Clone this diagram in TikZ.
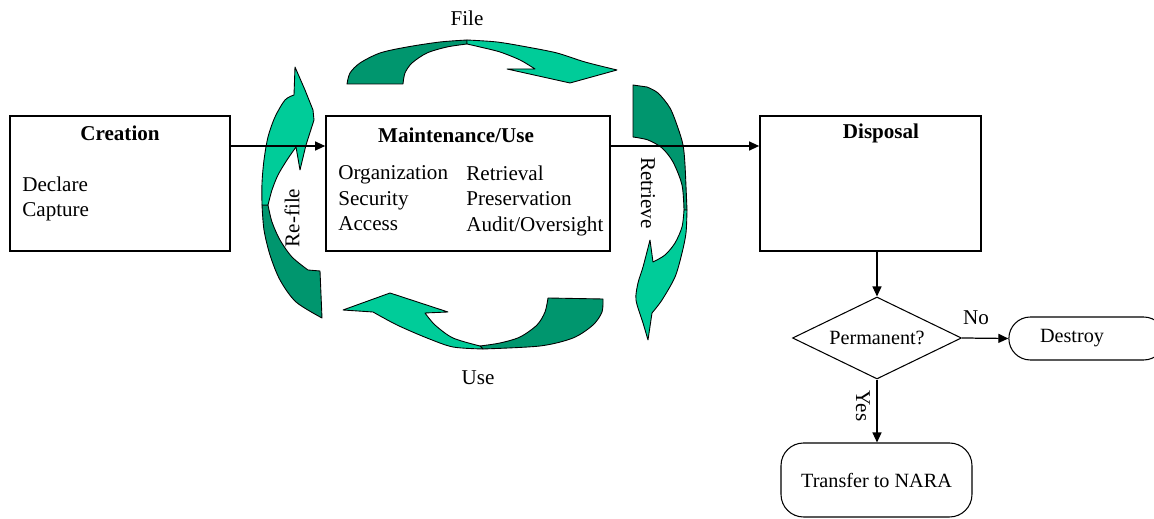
\documentclass[tikz,border=0pt]{standalone}
\usepackage{fontspec}
\setmainfont{Liberation Serif}
\usetikzlibrary{arrows.meta, positioning, shapes.geometric, shapes.misc}
\definecolor{tealdark}{RGB}{0,150,110}
\definecolor{teallight}{RGB}{0,204,153}

\begin{document}
\begin{tikzpicture}[x=0.02cm, y=-0.02cm, >={Triangle[length=2mm, width=1.8mm]},
  box/.style={draw, line width=1pt, fill=white, minimum width=#1, minimum height=2.7cm, inner sep=0pt},
  txt/.style={font=\fontsize{12}{14.5}\selectfont, inner sep=0pt, align=left},
  ttl/.style={inner sep=0pt, font=\fontsize{12}{14.5}\selectfont\bfseries},
  chart/.style={draw, line width=0.6pt, font=\fontsize{11.5}{13}\selectfont},
  decide/.style={chart, diamond, aspect=2, inner sep=0pt, minimum width=3.38cm, minimum height=1.64cm},
  term/.style={chart, rounded rectangle, minimum width=3.36cm, minimum height=0.86cm},
  endbox/.style={chart, rounded corners=0.45cm, minimum width=3.82cm, minimum height=1.48cm},
  flow/.style={->, line width=0.7pt},
  swirl/.style={draw=black, line width=0.5pt, line join=round}]
\useasboundingbox (0,0) rectangle (1154,519);
\clip (0,0) rectangle (1154,519);

% File (top)
\filldraw[swirl, fill=tealdark] plot[smooth] coordinates {(347,84) (350,73) (360,63) (380,53) (407,47) (440,42) (467,40)}
  -- plot[smooth] coordinates {(467,44) (447,47) (427,53) (412,63) (405,73) (403,84)} -- cycle;
\filldraw[swirl, fill=teallight] plot[smooth] coordinates {(467,40) (497,42) (527,47) (557,53) (585,62) (617,70)}
  -- (570,83) -- (507,69) -- (535,69)
  -- plot[smooth] coordinates {(535,69) (520,60) (500,52) (480,47) (467,44)} -- cycle;
% Retrieve (right)
\filldraw[swirl, fill=tealdark] (633,85) -- (647,87)
  -- plot[smooth] coordinates {(647,87) (658,93) (670,108) (678,128) (683,145) (685,165) (687,210)}
  -- plot[smooth] coordinates {(684,210) (682,185) (673,162) (662,148) (648,140) (633,137)} -- cycle;
\filldraw[swirl, fill=teallight] plot[smooth] coordinates {(687,210) (686,233) (682,253) (675,277) (662,300) (652,313)}
  -- (648,340) -- plot[smooth] coordinates {(648,340) (643,323) (636,300) (638,283) (643,267) (650,240)}
  -- (653,262) -- plot[smooth] coordinates {(653,262) (665,255) (675,243) (682,227) (684,210)} -- cycle;
% Use (bottom)
\filldraw[swirl, fill=tealdark] (548,298) -- (603,299)
  -- plot[smooth] coordinates {(603,299) (602,312) (593,325) (573,338) (540,346) (483,349)}
  -- plot[smooth] coordinates {(480,346) (500,343) (520,337) (537,325) (545,312) (548,298)} -- cycle;
\filldraw[swirl, fill=teallight] plot[smooth] coordinates {(483,349) (453,347) (427,338) (397,325) (373,312)}
  -- (343,310) -- (390,293) -- (448,312) -- (425,313)
  -- plot[smooth] coordinates {(425,313) (435,325) (453,338) (480,346)} -- cycle;
% Re-file (left)
\filldraw[swirl, fill=tealdark] plot[smooth] coordinates {(262,205) (264,230) (270,255) (280,280) (296,302) (322,318)}
  -- (320,271) -- plot[smooth] coordinates {(308,270) (292,257) (280,240) (272,222) (268,205)} -- cycle;
\filldraw[swirl, fill=teallight] plot[smooth] coordinates {(262,205) (262,183) (264,160) (268,137) (275,117) (285,100) (294,95)}
  -- (295,67) -- (305,90) -- (313,110) -- (314,120) -- (306,145) -- (300,170) -- (296,147)
  -- plot[smooth] coordinates {(296,147) (287,160) (278,175) (272,190) (268,205)} -- cycle;

% phases
\node[box=4.4cm] (creation) at (120,183.5) {};
\node[box=5.68cm] (maint) at (468,183.5) {};
\node[box=4.42cm] (disposal) at (870.5,183.5) {};
\node[ttl] (creationT) at (120,133) {Creation};
\node[ttl] (maintT) at (456,135) {Maintenance/Use};
\node[ttl] (disposalT) at (881,133) {Disposal};
\node[txt, anchor=west] (creationL) at (22,199) {Declare\\Capture};
\node[txt, anchor=west] (maintL) at (338,198.5) {Organization\\Security\\Access};
\node[txt, anchor=west] (maintR) at (466,200.5) {Retrieval\\Preservation\\Audit/Oversight};
\draw[flow] ([yshift=0.75cm]creation.east) -- ([yshift=0.75cm]maint.west);
\draw[flow] ([yshift=0.75cm]maint.east) -- ([yshift=0.75cm]disposal.west);

% cycle labels
\node[txt] (fileL) at (467,18) {File};
\node[txt] (useL) at (478,378) {Use};
\node[txt, rotate=90] (refileL) at (292,218) {Re-file};
\node[txt, rotate=-90] (retrieveL) at (648,193) {Retrieve};

% disposal decision
\node[decide] (perm) at (877,338) {Permanent?};
\node[term] (destroy) at (1087,338.5) {Destroy\hspace*{0.6cm}};
\node[endbox] (nara) at (876.5,480) {Transfer to NARA};
\draw[flow] (perm.north |- disposal.south) -- (perm.north);
\draw[flow] (perm.east) -- (destroy.west);
\draw[flow] (perm.south) -- (perm.south |- nara.north);
\node[txt] (noL) at (976,318) {No};
\node[txt, rotate=-90] (yesL) at (863,406) {Yes};
\end{tikzpicture}
\end{document}
